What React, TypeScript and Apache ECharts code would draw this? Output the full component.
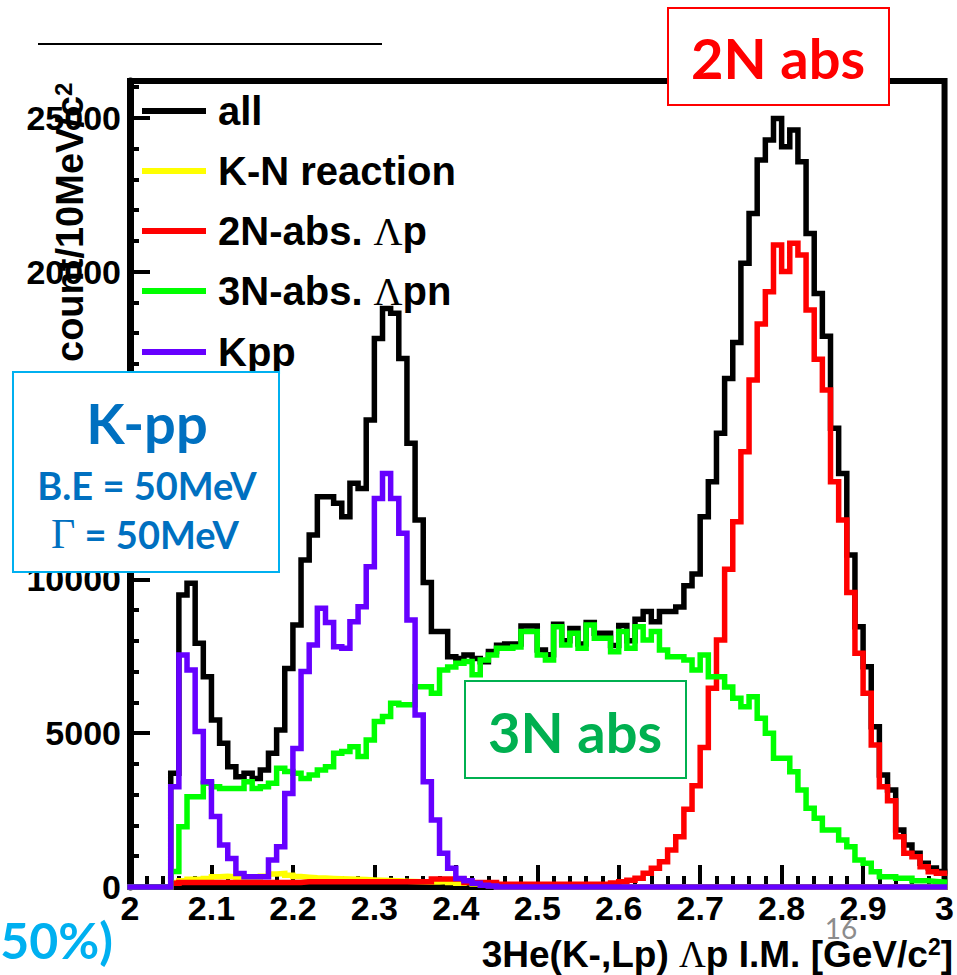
import React, { useEffect, useRef } from "react";
import * as echarts from "echarts";

// ---- data: 100 bins of 10 MeV from 2.00 to 3.00 GeV/c^2 ----
const BIN_START = 2.0;
const BIN_WIDTH = 0.01;

const allCounts = [
  0, 0, 0, 0, 0, 3695, 9490, 9870, 7920, 6835,
  5430, 4670, 3910, 3585, 3695, 3530, 3800, 4345, 5100, 7105,
  8515, 10630, 11440, 12685, 12685, 12470, 12035, 13120, 12955, 15180,
  17830, 18805, 18645, 17180, 14420, 11930, 9900, 8300, 8300, 7485,
  7430, 7540, 7430, 7320, 7650, 7860, 7900, 7900, 8480, 8480,
  7700, 7550, 8540, 8000, 8400, 7900, 8600, 8250, 8250, 7850,
  8500, 8000, 8700, 8950, 8620, 8950, 8950, 9100, 9790, 10170,
  12035, 13170, 14745, 16530, 17700, 20270, 21890, 23630, 24280, 24980,
  24060, 24600, 23570, 21240, 19290, 17900, 14910, 13440, 10790, 8460,
  7160, 5210, 3640, 3150, 1850, 1365, 1095, 770, 620, 500,
];

const knReaction = [
  0, 0, 0, 0, 0, 150, 200, 250, 250, 280,
  330, 350, 330, 300, 280, 300, 350, 420, 440, 380,
  340, 320, 300, 290, 280, 270, 260, 250, 240, 230,
  220, 210, 200, 190, 180, 170, 160, 160, 180, 150,
  120, 150, 100, 80, 50, 0, 0, 0, 0, 0,
  0, 0, 0, 0, 0, 0, 0, 0, 0, 0,
  0, 0, 0, 0, 0, 0, 0, 0, 0, 0,
  0, 0, 0, 0, 0, 0, 0, 0, 0, 0,
  0, 0, 0, 0, 0, 0, 0, 0, 0, 0,
  0, 0, 0, 0, 0, 0, 0, 0, 0, 0,
];

const twoNAbs = [
  0, 0, 0, 0, 0, 120, 150, 150, 150, 150,
  150, 150, 150, 150, 150, 150, 150, 150, 150, 150,
  150, 170, 170, 170, 170, 170, 170, 170, 170, 170,
  170, 170, 170, 170, 170, 170, 170, 260, 260, 260,
  260, 150, 150, 150, 150, 90, 90, 90, 90, 90,
  90, 90, 90, 90, 90, 90, 90, 90, 90, 130,
  170, 220, 282, 444, 607, 823, 1202, 1636, 2530, 3290,
  4530, 6456, 8028, 10330, 11873, 14148, 16478, 18300, 19348, 20865,
  20000, 20919, 20540, 18750, 17150, 16153, 13173, 11928, 9570, 7594,
  6294, 4615, 3261, 2800, 1636, 1094, 986, 661, 498, 444,
];

const threeNAbs = [
  0, 0, 0, 0, 0, 500, 1960, 2935, 2935, 3370,
  3260, 3200, 3200, 3200, 3420, 3200, 3260, 3370, 3860, 3750,
  3700, 3530, 3640, 3800, 3910, 4350, 4400, 4560, 4240, 4780,
  5380, 5540, 5970, 5920, 5920, 6510, 6510, 6300, 7050, 7150,
  7270, 7330, 6900, 7380, 7540, 7757, 7757, 7800, 8300, 8300,
  7540, 7380, 8460, 7865, 8245, 7757, 8515, 8082, 8082, 7648,
  8300, 7757, 8460, 8028, 8300, 7702, 7486, 7486, 7380, 7052,
  7540, 6836, 6836, 6500, 6132, 5861, 6186, 5482, 4994, 4182,
  4182, 3749, 3152, 2557, 2232, 1852, 1852, 1527, 1311, 877,
  769, 498, 336, 336, 282, 282, 200, 200, 180, 160,
];

const kppCounts = [
  0, 0, 0, 0, 0, 3260, 7540, 7050, 5050, 3420,
  2290, 1365, 930, 440, 335, 335, 335, 880, 1310, 3040,
  4500, 7000, 7865, 9060, 8600, 7810, 7760, 8620, 9110, 10410,
  12630, 13440, 12630, 11500, 8680, 5590, 3420, 2180, 1095, 607,
  280, 200, 120, 60, 30, 0, 0, 0, 0, 0,
  0, 0, 0, 0, 0, 0, 0, 0, 0, 0,
  0, 0, 0, 0, 0, 0, 0, 0, 0, 0,
  0, 0, 0, 0, 0, 0, 0, 0, 0, 0,
  0, 0, 0, 0, 0, 0, 0, 0, 0, 0,
  0, 0, 0, 0, 0, 0, 0, 0, 0, 0,
];

const seriesNames = ["all", "K-N reaction", "2N-abs. Λp", "3N-abs. Λpn", "Kpp"];
const seriesColors = ["#000000", "#FFFF00", "#FF0000", "#00FF00", "#6600FF"];
const seriesData = [allCounts, knReaction, twoNAbs, threeNAbs, kppCounts];
const yLabelValues = [0, 5000, 10000, 15000, 20000, 25000];

const ROOT_FONT = "'Liberation Sans', Arial, Helvetica, sans-serif";
const SLIDE_FONT = "Lato, 'Open Sans', 'Noto Sans', sans-serif";
const SERIF_FONT = "'Liberation Serif', 'Times New Roman', serif";

function stepPoints(values: number[]): [number, number][] {
  const pts: [number, number][] = [];
  values.forEach((v, i) => {
    const x0 = Math.round((BIN_START + i * BIN_WIDTH) * 1000) / 1000;
    const x1 = Math.round((BIN_START + (i + 1) * BIN_WIDTH) * 1000) / 1000;
    pts.push([x0, v]);
    pts.push([x1, v]);
  });
  return pts;
}

function richName(name: string): string {
  const parts = name.split("Λ");
  return parts.map((p) => (p ? `{a|${p}}` : "")).join("{g|Λ}");
}

function buildOption(): any {
  const legendGraphics: any[] = [];
  const legendY = [111, 171, 231, 291, 352];
  seriesNames.forEach((name, i) => {
    legendGraphics.push({
      type: "line",
      z: 50,
      shape: { x1: 142, y1: legendY[i], x2: 206, y2: legendY[i] },
      style: { stroke: seriesColors[i], lineWidth: 6 },
    });
    legendGraphics.push({
      type: "text",
      z: 50,
      x: 218,
      y: legendY[i],
      style: {
        text: richName(name),
        align: "left",
        verticalAlign: "middle",
        rich: {
          a: { fontFamily: ROOT_FONT, fontWeight: "bold", fontSize: 40, fill: "#000" },
          g: { fontFamily: SERIF_FONT, fontSize: 40, fill: "#000" },
        },
      },
    });
  });

  const graphics: any[] = [
    {
      type: "line",
      z: 50,
      shape: { x1: 38, y1: 44, x2: 382, y2: 44 },
      style: { stroke: "#000", lineWidth: 2 },
    },
    ...legendGraphics,
    // y axis title (rotated)
    {
      type: "group",
      x: 70,
      y: 362,
      rotation: Math.PI / 2,
      z: 50,
      children: [
        {
          type: "text",
          x: 0,
          y: 0,
          z: 50,
          style: {
            text: "{a|count/10MeV/c}{s|2}",
            align: "left",
            verticalAlign: "middle",
            rich: {
              a: { fontFamily: ROOT_FONT, fontWeight: "bold", fontSize: 38, fill: "#000" },
              s: { fontFamily: ROOT_FONT, fontWeight: "bold", fontSize: 24, fill: "#000", verticalAlign: "top" },
            },
          },
        },
      ],
    },
    // x axis title
    {
      type: "text",
      z: 50,
      x: 953,
      y: 954,
      style: {
        text: "{a|3He(K-,Lp) }{g|Λ}{a|p I.M. [GeV/c}{s|2}{a|]}",
        align: "right",
        verticalAlign: "middle",
        rich: {
          a: { fontFamily: ROOT_FONT, fontWeight: "bold", fontSize: 37, fill: "#000" },
          g: { fontFamily: SERIF_FONT, fontSize: 37, fill: "#000" },
          s: { fontFamily: ROOT_FONT, fontWeight: "bold", fontSize: 23, fill: "#000", verticalAlign: "top" },
        },
      },
    },
    // 2N abs box
    {
      type: "rect",
      z: 60,
      shape: { x: 668, y: 8, width: 221, height: 97 },
      style: { fill: "#fff", stroke: "#FF0000", lineWidth: 2 },
    },
    {
      type: "text",
      z: 61,
      x: 778,
      y: 57,
      style: {
        text: "2N abs",
        align: "center",
        verticalAlign: "middle",
        fontFamily: SLIDE_FONT,
        fontWeight: "bold",
        fontSize: 56,
        fill: "#FF0000",
      },
    },
    // K-pp box
    {
      type: "rect",
      z: 60,
      shape: { x: 13, y: 372, width: 266, height: 200 },
      style: { fill: "#fff", stroke: "#00B0F0", lineWidth: 2 },
    },
    {
      type: "text",
      z: 61,
      x: 147,
      y: 422,
      style: {
        text: "K-pp",
        align: "center",
        verticalAlign: "middle",
        fontFamily: SLIDE_FONT,
        fontWeight: "bold",
        fontSize: 56,
        fill: "#0070C0",
      },
    },
    {
      type: "text",
      z: 61,
      x: 147,
      y: 485,
      style: {
        text: "B.E = 50MeV",
        align: "center",
        verticalAlign: "middle",
        fontFamily: SLIDE_FONT,
        fontWeight: "bold",
        fontSize: 38,
        fill: "#0070C0",
      },
    },
    {
      type: "text",
      z: 61,
      x: 145,
      y: 534,
      style: {
        text: "{g|Γ}{a| = 50MeV}",
        align: "center",
        verticalAlign: "middle",
        rich: {
          a: { fontFamily: SLIDE_FONT, fontWeight: "bold", fontSize: 38, fill: "#0070C0" },
          g: { fontFamily: SERIF_FONT, fontSize: 42, fill: "#0070C0" },
        },
      },
    },
    // 3N abs box
    {
      type: "rect",
      z: 60,
      shape: { x: 465, y: 681, width: 221, height: 97 },
      style: { fill: "#fff", stroke: "#00B050", lineWidth: 2 },
    },
    {
      type: "text",
      z: 61,
      x: 575,
      y: 731,
      style: {
        text: "3N abs",
        align: "center",
        verticalAlign: "middle",
        fontFamily: SLIDE_FONT,
        fontWeight: "bold",
        fontSize: 56,
        fill: "#00B050",
      },
    },
    // bottom-left fragment (cut at the slide edge, as in the source)
    {
      type: "text",
      z: 61,
      x: 113,
      y: 940,
      style: {
        text: "(50%)",
        align: "right",
        verticalAlign: "middle",
        fontFamily: SLIDE_FONT,
        fontWeight: "bold",
        fontSize: 50,
        fill: "#00B0F0",
      },
    },
    // page number
    {
      type: "text",
      z: 61,
      x: 841,
      y: 928,
      style: {
        text: "16",
        align: "center",
        verticalAlign: "middle",
        fontFamily: SLIDE_FONT,
        fontSize: 28,
        fill: "#8C8C8C",
      },
    },
  ];

  return {
    animation: false,
    backgroundColor: "#fff",
    grid: {
      left: 130,
      right: 3,
      top: 81,
      bottom: 88,
      show: true,
      borderColor: "#000",
      borderWidth: 6,
      backgroundColor: "transparent",
    },
    xAxis: {
      type: "value",
      min: 2,
      max: 3,
      interval: 0.1,
      axisLine: { show: true, onZero: false, lineStyle: { color: "#000", width: 5 } },
      axisTick: { show: true, inside: true, length: 22, lineStyle: { color: "#000", width: 4 } },
      minorTick: { show: true, splitNumber: 5, length: 11, lineStyle: { color: "#000", width: 4 } },
      splitLine: { show: false },
      minorSplitLine: { show: false },
      axisLabel: {
        color: "#000",
        fontFamily: ROOT_FONT,
        fontWeight: "bold",
        fontSize: 34,
        margin: 4,
        formatter: (v: number) => String(parseFloat(v.toFixed(1))),
      },
    },
    yAxis: [
      {
        type: "value",
        min: 0,
        max: 26195,
        interval: 5000,
        position: "left",
        axisLine: { show: true, onZero: false, lineStyle: { color: "#000", width: 7 } },
        axisTick: { show: true, inside: true, length: 20, lineStyle: { color: "#000", width: 4 } },
        splitLine: { show: false },
        axisLabel: {
          color: "#000",
          fontFamily: ROOT_FONT,
          fontWeight: "bold",
          fontSize: 34,
          margin: 9,
          formatter: (v: number) => (yLabelValues.indexOf(v) >= 0 ? String(v) : ""),
        },
      },
      {
        type: "value",
        min: 0,
        max: 26195,
        interval: 1000,
        position: "left",
        offset: 0,
        axisLine: { show: false },
        axisTick: { show: true, inside: true, length: 9, lineStyle: { color: "#000", width: 4 } },
        splitLine: { show: false },
        axisLabel: { show: false },
      },
    ],
    series: seriesData.map((vals, i) => ({
      type: "line",
      name: seriesNames[i],
      data: stepPoints(vals),
      symbol: "none",
      showSymbol: false,
      clip: false,
      silent: true,
      z: 2 + i,
      lineStyle: { color: seriesColors[i], width: 5.5, join: "miter", cap: "square" },
    })),
    graphic: graphics,
  };
}

export default function App() {
  const ref = useRef<HTMLDivElement>(null);
  useEffect(() => {
    document.body.style.margin = "0";
    const chart = echarts.init(ref.current as HTMLDivElement, undefined, { renderer: "svg" });
    chart.setOption(buildOption());
    return () => {
      chart.dispose();
    };
  }, []);
  return (
    <div
      ref={ref}
      style={{ position: "absolute", left: 0, top: 0, width: 957, height: 975, background: "#fff" }}
    />
  );
}
